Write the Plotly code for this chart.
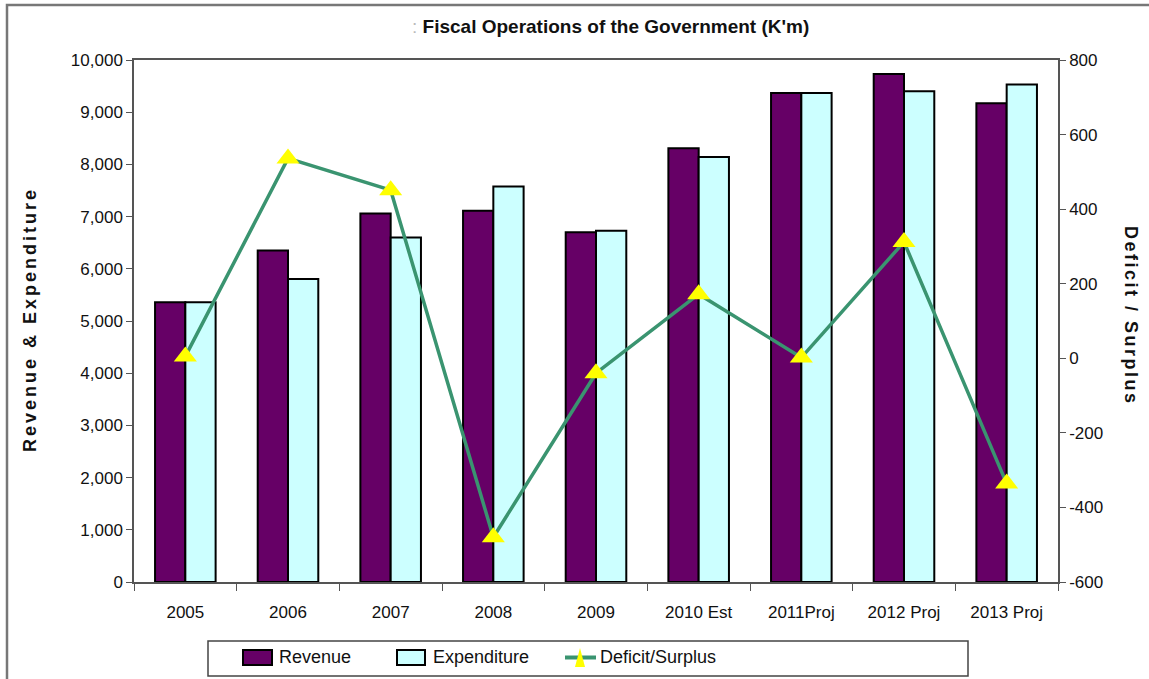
import plotly.graph_objects as go

# ── Data ──────────────────────────────────────────────
years = ["2005", "2006", "2007", "2008", "2009",
         "2010 Est", "2011Proj", "2012 Proj", "2013 Proj"]
revenue = [5360, 6350, 7060, 7110, 6700, 8310, 9370, 9730, 9170]
expenditure = [5360, 5805, 6600, 7575, 6730, 8140, 9370, 9400, 9530]
deficit_surplus = [5, 536, 451, -480, -40, 172, 2, 312, -336]

right_tickvals = [-600, -400, -200, 0, 200, 400, 600, 800]
right_ticktext = ["-600", "-400", "-200", "0", "200", "400", "600", "800"]

# ── Geometry (pixels -> paper) ─────────────────────────
W, H = 1149, 679
L, R, T, B = 134, 91, 60, 97
PW, PH = W - L - R, H - T - B


def px(x):
    return (x - L) / PW


def py(y):
    return (H - B - y) / PH


FONT = "Liberation Sans, Arial, sans-serif"
AXIS_CLR = "#555555"
REV_CLR = "#660066"
EXP_CLR = "#ccffff"
LINE_CLR = "#3a9470"
MARK_CLR = "#ffff00"

fig = go.Figure()

fig.add_trace(go.Bar(
    x=years, y=revenue, name="Revenue",
    marker=dict(color=REV_CLR, line=dict(color="black", width=2)),
))
fig.add_trace(go.Bar(
    x=years, y=expenditure, name="Expenditure",
    marker=dict(color=EXP_CLR, line=dict(color="black", width=2)),
))
fig.add_trace(go.Scatter(
    x=years, y=deficit_surplus, name="Deficit/Surplus", yaxis="y2",
    mode="lines+markers",
    line=dict(color=LINE_CLR, width=3.5),
    marker=dict(symbol="triangle-up", size=20, color=MARK_CLR),
))

fig.update_layout(
    width=W, height=H,
    margin=dict(l=L, r=R, t=T, b=B),
    paper_bgcolor="white", plot_bgcolor="white",
    barmode="group", bargap=0.41, bargroupgap=0,
    showlegend=False,
    font=dict(family=FONT, size=17, color="#111111"),
    xaxis=dict(
        range=[-0.5, 8.5],
        showline=True, linecolor=AXIS_CLR, linewidth=1.5, mirror=True,
        ticks="outside", tickson="boundaries", ticklen=7, tickcolor=AXIS_CLR,
        ticklabelstandoff=14, showgrid=False,
        tickfont=dict(family=FONT, size=17),
    ),
    yaxis=dict(
        range=[0, 10000], dtick=1000, tickformat=",",
        showline=True, linecolor=AXIS_CLR, linewidth=1.5,
        ticks="outside", ticklen=6, tickcolor=AXIS_CLR,
        showgrid=False, zeroline=False,
        tickfont=dict(family=FONT, size=17),
    ),
    yaxis2=dict(
        range=[-600, 800], tickvals=right_tickvals, ticktext=right_ticktext,
        overlaying="y", side="right",
        showline=True, linecolor=AXIS_CLR, linewidth=1.5,
        ticks="outside", ticklen=6, tickcolor=AXIS_CLR,
        showgrid=False, zeroline=False,
        tickfont=dict(family=FONT, size=17),
    ),
)

# ── Titles ────────────────────────────────────────────
fig.add_annotation(
    x=px(610), y=py(27), xref="paper", yref="paper", showarrow=False,
    xanchor="center", yanchor="middle",
    text="<span style='color:#bbbbbb'>:</span> <b>Fiscal Operations of the Government (K'm)</b>",
    font=dict(family=FONT, size=19, color="#111111"),
)
fig.add_annotation(
    x=px(30), y=py(320), xref="paper", yref="paper", showarrow=False,
    xanchor="center", yanchor="middle", textangle=-90,
    text="<b><span style='letter-spacing:3px'>Revenue & Expenditure</span></b>",
    font=dict(family=FONT, size=18, color="#111111"),
)
fig.add_annotation(
    x=px(1131), y=py(316), xref="paper", yref="paper", showarrow=False,
    xanchor="center", yanchor="middle", textangle=90,
    text="<b><span style='letter-spacing:2.5px'>Deficit / Surplus</span></b>",
    font=dict(family=FONT, size=18, color="#111111"),
)

# ── Outer frame (top and left edges visible) ──────────
fig.add_shape(type="path", xref="paper", yref="paper",
              path=f"M{px(7)},{py(679)} L{px(7)},{py(5)} L{px(1149)},{py(5)}",
              line=dict(color="#777777", width=2.5), layer="below")

# ── Legend (drawn) ────────────────────────────────────
fig.add_shape(type="rect", xref="paper", yref="paper",
              x0=px(208), x1=px(968), y0=py(676), y1=py(641),
              line=dict(color="#444444", width=1.5))
fig.add_shape(type="rect", xref="paper", yref="paper",
              x0=px(243), x1=px(272), y0=py(665), y1=py(650),
              fillcolor=REV_CLR, line=dict(color="black", width=2))
fig.add_shape(type="rect", xref="paper", yref="paper",
              x0=px(397), x1=px(425), y0=py(665), y1=py(650),
              fillcolor=EXP_CLR, line=dict(color="black", width=2))
fig.add_shape(type="line", xref="paper", yref="paper",
              x0=px(565), x1=px(596), y0=py(657.5), y1=py(657.5),
              line=dict(color=LINE_CLR, width=4))
fig.add_shape(type="path", xref="paper", yref="paper",
              path=f"M{px(575)},{py(667)} L{px(585)},{py(667)} L{px(580)},{py(648)} Z",
              fillcolor=MARK_CLR, line=dict(width=0))
for x0, label in [(277, "Revenue"), (431, "Expenditure"), (598, "Deficit/Surplus")]:
    fig.add_annotation(x=px(x0), y=py(657), xref="paper", yref="paper",
                       xanchor="left", yanchor="middle", showarrow=False, text=label,
                       font=dict(family=FONT, size=18, color="#111111"))

fig.write_html("out.html", config={"displayModeBar": False},
               post_script="document.body.style.margin='0px';")
